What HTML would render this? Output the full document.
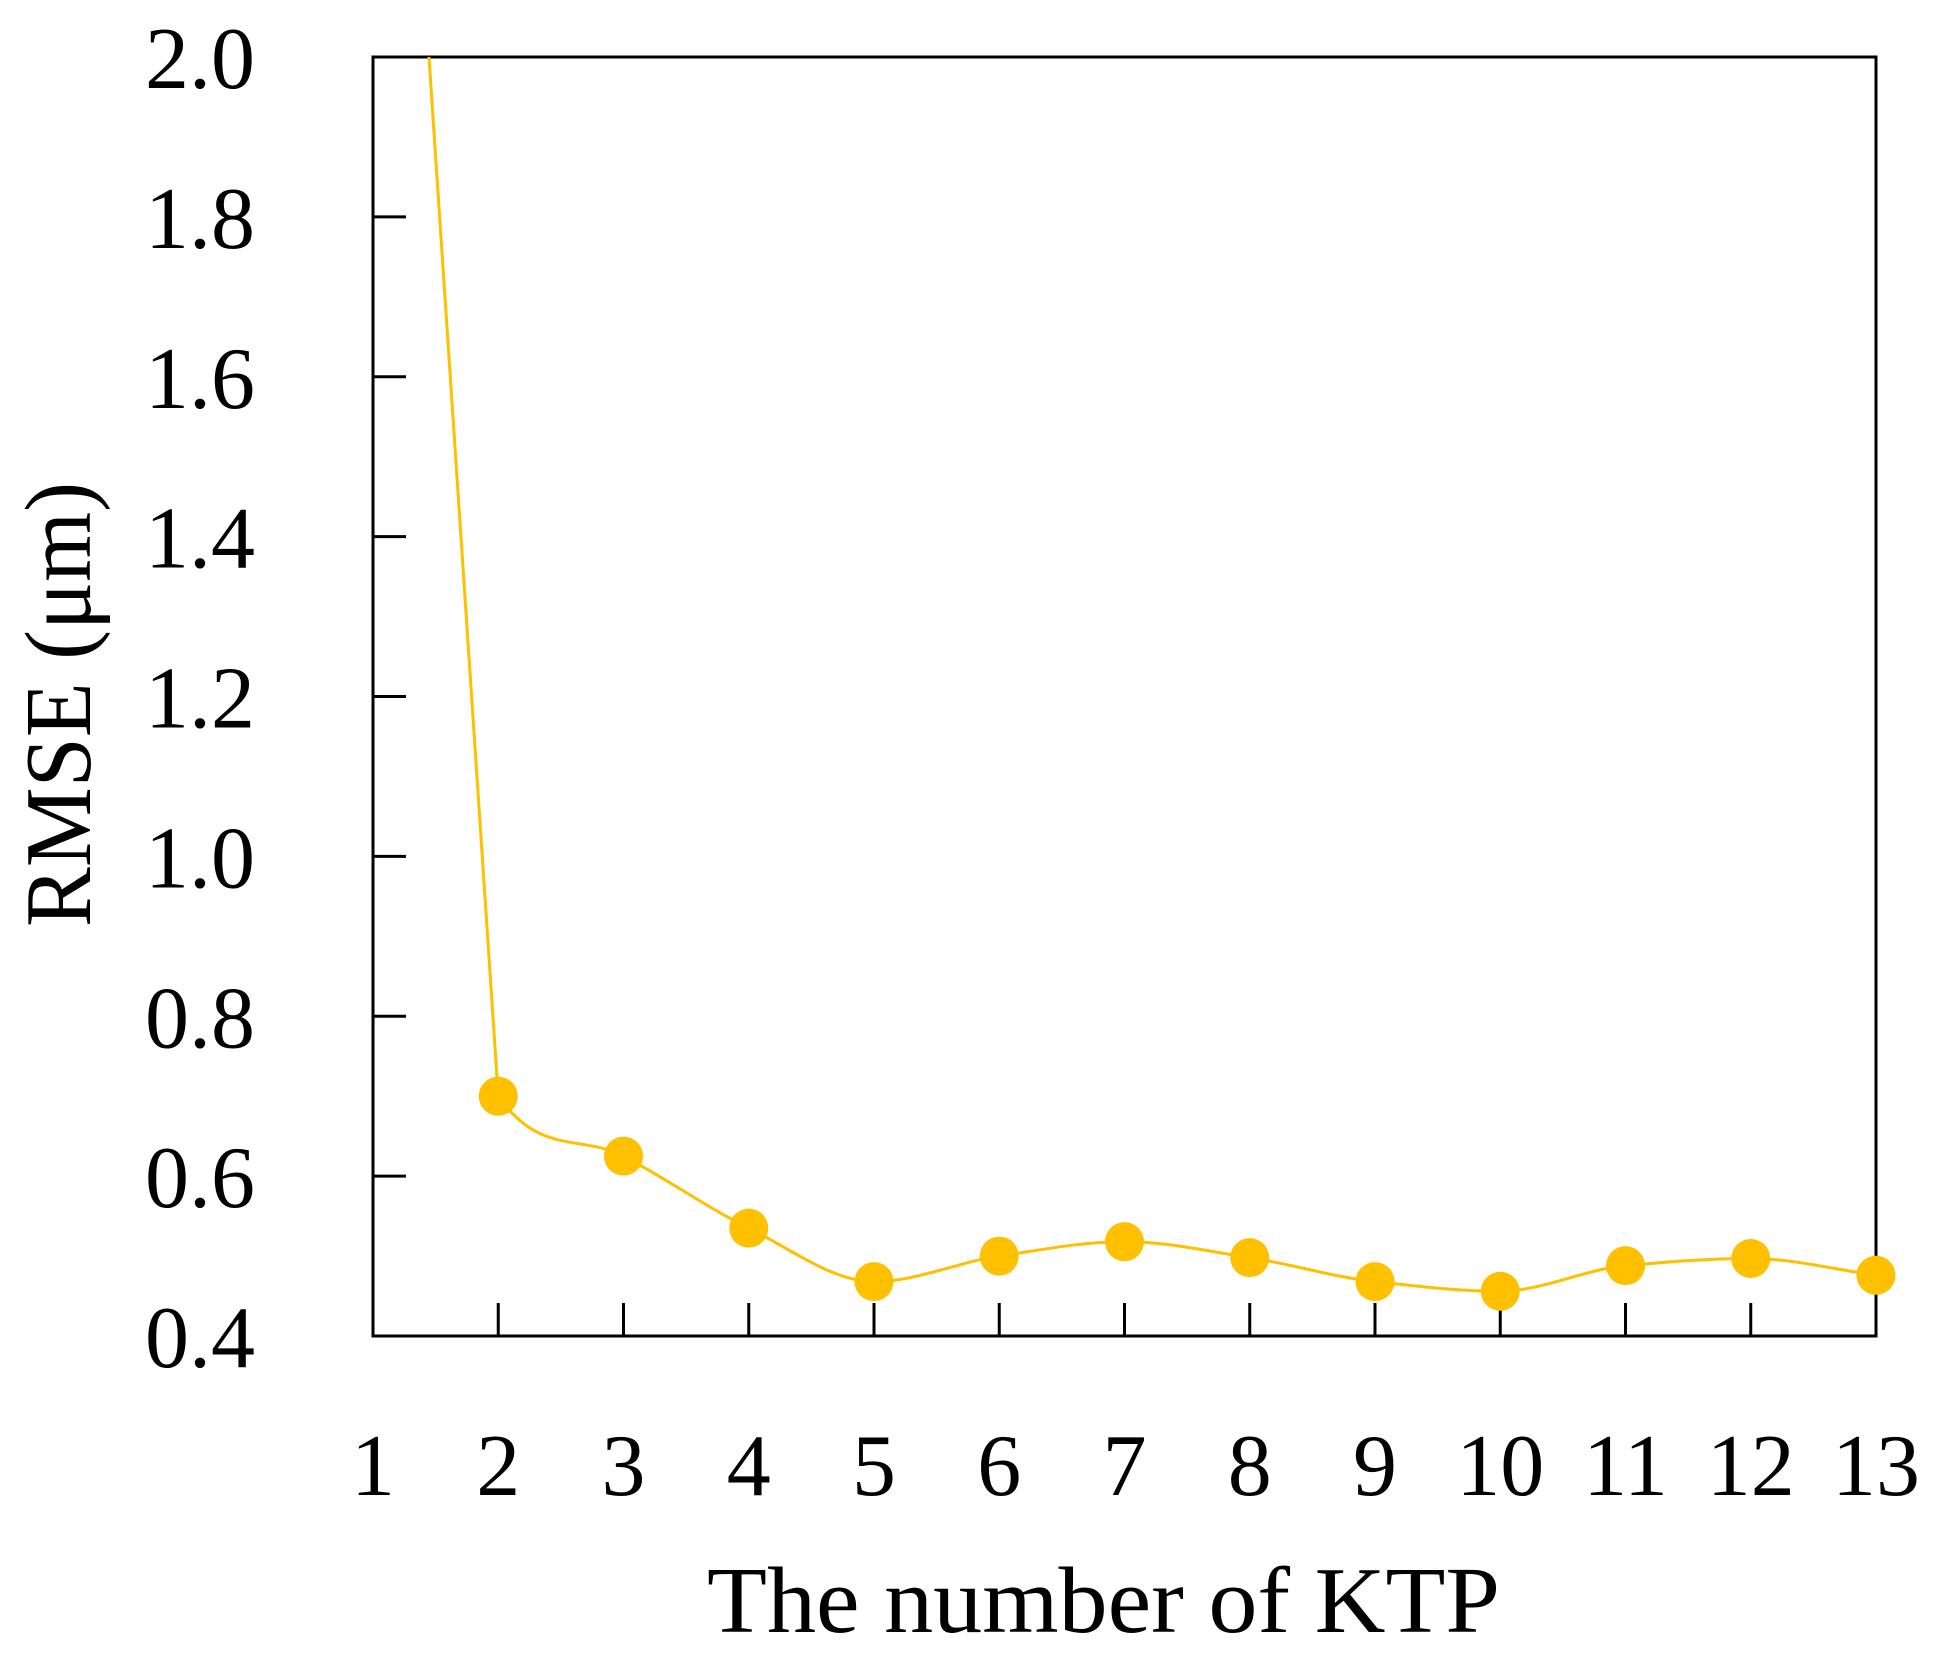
<!DOCTYPE html>
<html><head><meta charset="utf-8"><style>
html,body{margin:0;padding:0;background:#fff;}
svg{display:block;}
text{font-family:"Liberation Serif",serif;fill:#000;}
</style></head><body>
<svg id="chart" width="1940" height="1656" viewBox="0 0 1940 1656" xmlns="http://www.w3.org/2000/svg">
<defs><clipPath id="plotclip"><rect x="373" y="57" width="1503" height="1279"/></clipPath></defs>
<g id="axes"></g>
<g id="series" clip-path="url(#plotclip)"></g>
<g id="markers"></g>
<text x="707" y="1632" font-size="94" textLength="793" lengthAdjust="spacingAndGlyphs">The number of KTP</text>
<text transform="translate(90,927) rotate(-90)" x="0" y="0" font-size="94" textLength="445" lengthAdjust="spacingAndGlyphs">RMSE (μm)</text>
</svg>
<script>
const categories = [1,2,3,4,5,6,7,8,9,10,11,12,13];
const rmseValues = [3.05,0.70,0.625,0.535,0.468,0.50,0.518,0.498,0.468,0.456,0.488,0.497,0.476];
const markerStart = 1;
const yTicks = [0.4,0.6,0.8,1.0,1.2,1.4,1.6,1.8,2.0];
const yTickLabels = ["0.4","0.6","0.8","1.0","1.2","1.4","1.6","1.8","2.0"];
const xTickLabels = ["1","2","3","4","5","6","7","8","9","10","11","12","13"];

const L=373,R=1876,T=57,B=1336;
const xS=v=>L+(v-1)/(13-1)*(R-L);
const yS=v=>B-(v-0.4)/(2.0-0.4)*(B-T);
const NS='http://www.w3.org/2000/svg';
function mk(tag,parent){const e=document.createElementNS(NS,tag);parent.appendChild(e);return e;}
const axes=document.getElementById('axes');
const frame=mk('rect',axes);


frame.setAttribute('x',L);frame.setAttribute('y',T);frame.setAttribute('width',R-L);frame.setAttribute('height',B-T);
frame.setAttribute('fill','none');frame.setAttribute('stroke','#000');frame.setAttribute('stroke-width','3');
yTicks.forEach((v,i)=>{
  const y=yS(v);
  const t=mk('line',axes);
  
  
  t.setAttribute('x1',L);t.setAttribute('x2',L+33);t.setAttribute('y1',y);t.setAttribute('y2',y);
  t.setAttribute('stroke','#000');t.setAttribute('stroke-width','3');
  const lb=mk('text',axes);
  
  
  lb.setAttribute('x',255);lb.setAttribute('y',y+31);lb.setAttribute('font-size','88');lb.setAttribute('text-anchor','end');
  lb.textContent=yTickLabels[i];
});
categories.forEach((c,i)=>{
  const x=xS(c);
  const t=mk('line',axes);
  
  
  t.setAttribute('x1',x);t.setAttribute('x2',x);t.setAttribute('y1',B);t.setAttribute('y2',B-33);
  t.setAttribute('stroke','#000');t.setAttribute('stroke-width','3');
  const lb=mk('text',axes);
  
  
  lb.setAttribute('x',x);lb.setAttribute('y',1495);lb.setAttribute('font-size','88');lb.setAttribute('text-anchor','middle');
  lb.textContent=xTickLabels[i];
});
const pts=categories.map((c,i)=>[xS(c),yS(rmseValues[i])]);
const n=pts.length;
const sec=[];
for(let i=0;i<n-1;i++)sec.push((pts[i+1][1]-pts[i][1])/(pts[i+1][0]-pts[i][0]));
const m=new Array(n);
m[0]=sec[0];m[n-1]=sec[n-2];
for(let i=1;i<n-1;i++){
  if(sec[i-1]*sec[i]<=0)m[i]=0;
  else m[i]=2/(1/sec[i-1]+1/sec[i]);
}
m[1]=3*sec[1];
let d='M'+pts[0][0]+','+pts[0][1]+' L'+pts[1][0]+','+pts[1][1];
for(let i=1;i<n-1;i++){
  const h=(pts[i+1][0]-pts[i][0])/3;
  d+=' C'+(pts[i][0]+h)+','+(pts[i][1]+m[i]*h)+' '+(pts[i+1][0]-h)+','+(pts[i+1][1]-m[i+1]*h)+' '+pts[i+1][0]+','+pts[i+1][1];
}
const path=mk('path',document.getElementById('series'));


path.setAttribute('d',d);path.setAttribute('fill','none');path.setAttribute('stroke','#FFC000');path.setAttribute('stroke-width','3');
const mg=document.getElementById('markers');
categories.forEach((c,i)=>{
  if(i<markerStart)return;
  const mc=mk('circle',mg);
  
  
  mc.setAttribute('cx',xS(c));mc.setAttribute('cy',yS(rmseValues[i]));mc.setAttribute('r','19.5');mc.setAttribute('fill','#FFC000');
});
</script>
</body></html>
